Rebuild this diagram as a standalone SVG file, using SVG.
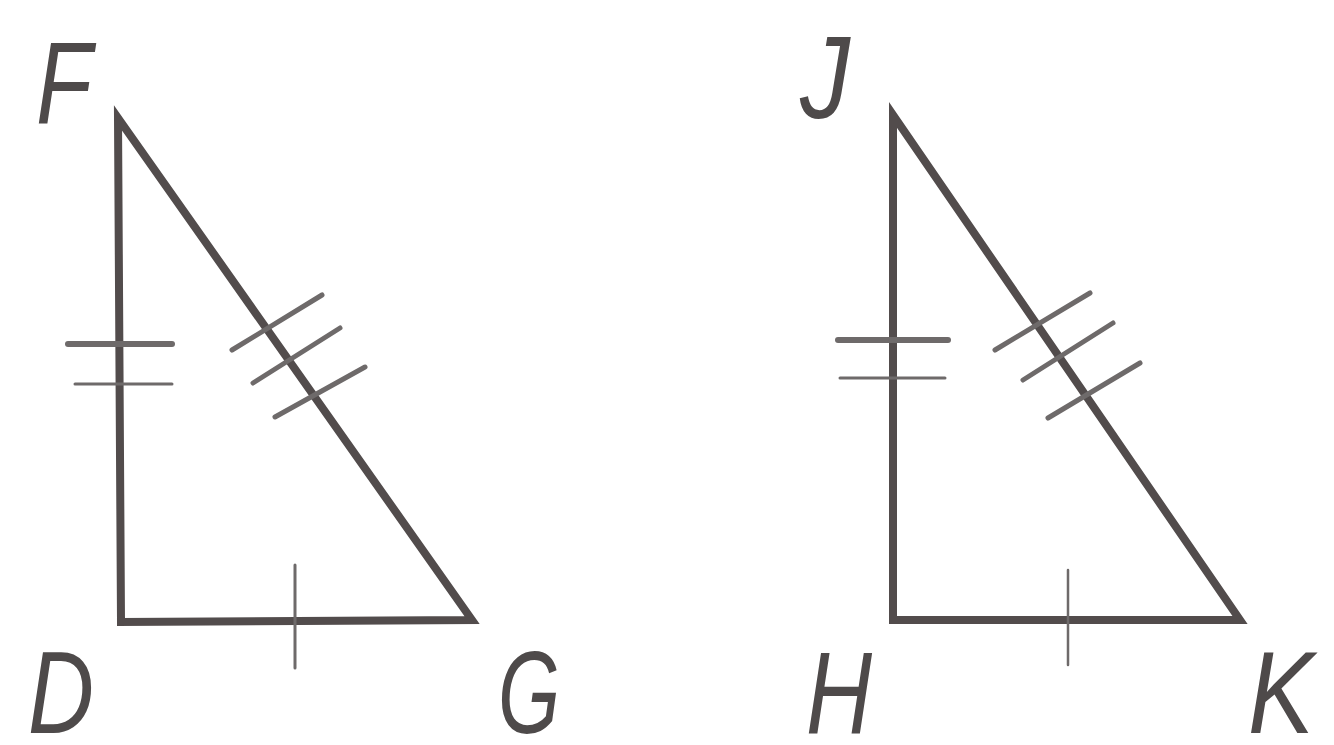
<svg xmlns="http://www.w3.org/2000/svg" width="1334" height="745" viewBox="0 0 1334 745">
<style>
.side{fill:none;stroke:#524c4c;stroke-width:8;stroke-linejoin:miter;stroke-miterlimit:20}
.tk{stroke:#6e6a6a;stroke-linecap:round}
.lbl{font-family:"Liberation Sans",Arial,sans-serif;font-style:italic;font-size:116px;fill:#4e4a4a}
</style>
<rect width="1334" height="745" fill="#ffffff"/>
<g id="triangle-DFG">
<polygon class="side" points="118,118 121,622 472,620"/>
<line class="tk" x1="68" y1="344" x2="172" y2="344" stroke-width="6"/>
<line class="tk" x1="75" y1="384" x2="172" y2="384" stroke-width="3"/>
<line class="tk" x1="295" y1="565" x2="295" y2="668" stroke-width="3"/>
<line class="tk" x1="232" y1="350" x2="322" y2="295" stroke-width="5"/>
<line class="tk" x1="253" y1="383" x2="340" y2="328" stroke-width="5"/>
<line class="tk" x1="275" y1="417" x2="365" y2="367" stroke-width="5"/>
</g>
<g id="triangle-HJK">
<polygon class="side" points="893,115 893,620 1240,620"/>
<line class="tk" x1="838" y1="340" x2="948" y2="340" stroke-width="6"/>
<line class="tk" x1="840" y1="378" x2="945" y2="378" stroke-width="3"/>
<line class="tk" x1="1068" y1="570" x2="1068" y2="665" stroke-width="2.5"/>
<line class="tk" x1="995" y1="350" x2="1090" y2="293" stroke-width="5"/>
<line class="tk" x1="1023" y1="380" x2="1113" y2="323" stroke-width="5"/>
<line class="tk" x1="1048" y1="418" x2="1140" y2="363" stroke-width="5"/>
</g>
<g id="labels">
<text class="lbl" x="36" y="124" textLength="56" lengthAdjust="spacingAndGlyphs">F</text>
<text class="lbl" x="28" y="733" textLength="66" lengthAdjust="spacingAndGlyphs">D</text>
<text class="lbl" x="498" y="733" textLength="62" lengthAdjust="spacingAndGlyphs">G</text>
<text class="lbl" x="800" y="118" textLength="50" lengthAdjust="spacingAndGlyphs">J</text>
<text class="lbl" x="806" y="733" textLength="66" lengthAdjust="spacingAndGlyphs">H</text>
<text class="lbl" x="1248" y="733" textLength="66" lengthAdjust="spacingAndGlyphs">K</text>
</g>
</svg>
